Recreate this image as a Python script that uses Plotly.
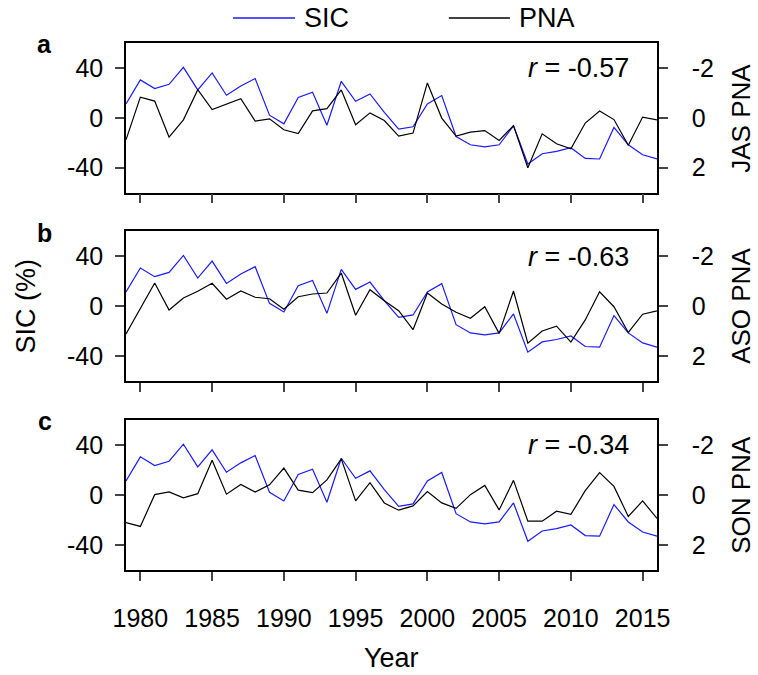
import plotly.graph_objects as go

years = list(range(1979, 2017))

sic = [11.2, 30.4, 23.5, 26.9, 40.5, 22.4, 36.0, 18.1, 25.6, 31.5,
       2.1, -4.8, 16.3, 20.5, -5.9, 29.3, 13.3, 19.2, 4.3, -9.1,
       -7.2, 11.2, 17.9, -15.0, -21.6, -23.2, -21.6, -6.4, -37.0, -28.8,
       -26.9, -24.0, -32.5, -33.0, -7.7, -21.6, -29.6, -33.0]

pna_jas = [0.88, -0.83, -0.67, 0.77, 0.08, -1.13, -0.33, -0.56, -0.77, 0.13,
           0.04, 0.48, 0.63, -0.28, -0.37, -1.12, 0.28, -0.20, 0.11, 0.73,
           0.61, -1.40, 0.01, 0.73, 0.57, 0.51, 0.91, 0.31, 2.00, 0.64,
           1.04, 1.24, 0.21, -0.27, 0.07, 1.10, -0.03, 0.08]

pna_aso = [1.12, 0.08, -0.92, 0.16, -0.32, -0.59, -0.91, -0.27, -0.60, -0.35,
           -0.29, 0.13, -0.37, -0.48, -0.52, -1.32, 0.37, -0.65, -0.21, 0.19,
           0.95, -0.52, -0.08, 0.25, 0.49, 0.03, 1.10, -0.60, 1.49, 1.00,
           0.81, 1.45, 0.56, -0.57, 0.03, 1.06, 0.33, 0.20]

pna_son = [1.11, 1.26, -0.01, -0.12, 0.12, -0.05, -1.38, -0.03, -0.42, -0.11,
           -0.40, -1.07, -0.19, -0.09, -0.60, -1.44, 0.24, -0.49, 0.32, 0.61,
           0.44, -0.13, 0.32, 0.54, -0.01, -0.38, 0.60, -0.58, 1.05, 1.05,
           0.65, 0.78, -0.17, -0.89, -0.34, 0.86, 0.24, 0.94]

panel_letters = ["a", "b", "c"]
pna_series = [pna_jas, pna_aso, pna_son]
pna_titles = ["JAS PNA", "ASO PNA", "SON PNA"]
r_texts = ["-0.57", "-0.63", "-0.34"]

x_ticks = [1980, 1985, 1990, 1995, 2000, 2005, 2010, 2015]
sic_ticks = [-40, 0, 40]
sic_ticktext = ["-40", "0", "40"]
pna_ticks = [-2, 0, 2]
pna_ticktext = ["-2", "0", "2"]

FONT = "Liberation Sans, Arial, sans-serif"
BLUE = "#1a1aff"
TICKFS = 25
TITLEFS = 27

domains = [[0.716, 1.0], [0.359, 0.643], [0.0, 0.285]]

fig = go.Figure()
layout = dict(
    width=758, height=675,
    margin=dict(l=126, r=101, t=43, b=105),
    paper_bgcolor="white", plot_bgcolor="white",
    showlegend=False,
    font=dict(family=FONT, size=TICKFS, color="black"),
)

annotations = []
shapes = []

for i in range(3):
    xn = "" if i == 0 else str(i + 1)
    y1n = str(2 * i + 1) if i > 0 else ""
    y2n = str(2 * i + 2)
    xref = "x" + xn
    y1ref = "y" + y1n
    y2ref = "y" + y2n

    fig.add_trace(go.Scatter(x=years, y=sic, mode="lines", name="SIC",
                             line=dict(color=BLUE, width=1.2),
                             xaxis=xref, yaxis=y1ref))
    fig.add_trace(go.Scatter(x=years, y=pna_series[i], mode="lines", name="PNA",
                             line=dict(color="black", width=1.2),
                             xaxis=xref, yaxis=y2ref))

    layout["xaxis" + xn] = dict(
        domain=[0, 1], anchor=y1ref, range=[1979, 2016],
        tickvals=x_ticks, ticks="outside", ticklen=9, tickwidth=1.5,
        showticklabels=(i == 2), ticklabelstandoff=16,
        showline=True, linewidth=1.6, linecolor="black", mirror=True,
        showgrid=False, zeroline=False,
        tickfont=dict(size=TICKFS),
    )
    layout["yaxis" + y1n] = dict(
        domain=domains[i], anchor=xref, range=[-60, 60],
        tickvals=sic_ticks, ticktext=sic_ticktext,
        ticks="outside", ticklen=9, tickwidth=1.5, ticklabelstandoff=7,
        showline=True, linewidth=1.6, linecolor="black", mirror=True,
        showgrid=False, zeroline=False,
        tickfont=dict(size=TICKFS),
    )
    layout["yaxis" + y2n] = dict(
        overlaying=y1ref, side="right", anchor=xref, range=[3, -3],
        tickvals=pna_ticks, ticktext=pna_ticktext,
        ticks="outside", ticklen=9, tickwidth=1.5, ticklabelstandoff=19,
        showline=True, linewidth=1.6, linecolor="black",
        showgrid=False, zeroline=False,
        tickfont=dict(size=TICKFS),
    )

    # panel letter
    annotations.append(dict(text="<b>" + panel_letters[i] + "</b>",
                            xref="paper", yref=y1ref + " domain",
                            x=-0.153, y=0.99, xanchor="center", yanchor="middle",
                            showarrow=False, font=dict(size=TICKFS)))
    # r text
    annotations.append(dict(text="<i>r</i> = " + r_texts[i],
                            xref=xref + " domain", yref=y1ref + " domain",
                            x=0.951, y=0.83, xanchor="right", yanchor="middle",
                            showarrow=False, font=dict(size=TITLEFS)))
    # right axis title
    annotations.append(dict(text=pna_titles[i], textangle=-90,
                            xref="paper", yref=y1ref + " domain",
                            x=1.158, y=0.5, xanchor="center", yanchor="middle",
                            showarrow=False, font=dict(size=26)))

# left title
annotations.append(dict(text="SIC (%)", textangle=-90, xref="paper", yref="paper",
                        x=-0.19, y=0.5, xanchor="center", yanchor="middle",
                        showarrow=False, font=dict(size=TITLEFS)))
# x title
annotations.append(dict(text="Year", xref="paper", yref="paper",
                        x=0.5, y=-0.167, xanchor="center", yanchor="middle",
                        showarrow=False, font=dict(size=TITLEFS)))

# legend
leg_y = 1.0475
shapes.append(dict(type="line", xref="paper", yref="paper", x0=0.2015, x1=0.3183,
                   y0=leg_y, y1=leg_y, line=dict(color=BLUE, width=1.5)))
shapes.append(dict(type="line", xref="paper", yref="paper", x0=0.608, x1=0.723,
                   y0=leg_y, y1=leg_y, line=dict(color="black", width=1.5)))
annotations.append(dict(text="SIC", xref="paper", yref="paper", x=0.331, y=leg_y,
                        xanchor="left", yanchor="middle", showarrow=False,
                        font=dict(size=TITLEFS)))
annotations.append(dict(text="PNA", xref="paper", yref="paper", x=0.736, y=leg_y,
                        xanchor="left", yanchor="middle", showarrow=False,
                        font=dict(size=TITLEFS)))

layout["annotations"] = annotations
layout["shapes"] = shapes
fig.update_layout(**layout)

fig.write_html("out.html")
